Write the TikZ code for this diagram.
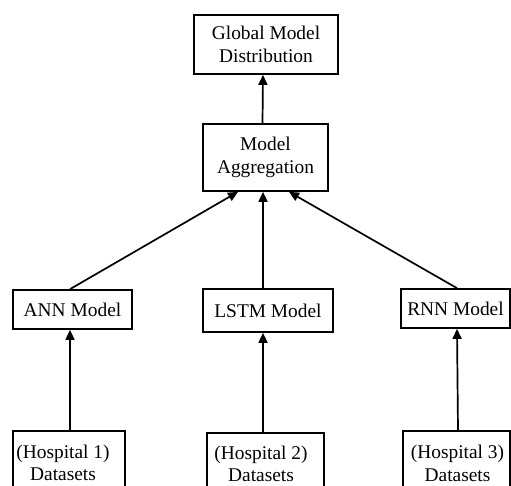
\documentclass[tikz,border=0pt]{standalone}
\usepackage{fontspec}
\setmainfont{Liberation Serif}
\usetikzlibrary{arrows.meta}
\begin{document}
\begin{tikzpicture}[x=1pt,y=-1pt,
  box/.style={draw,line width=1.7pt,inner sep=0pt,align=center,font=\fontsize{19.4}{23.5}\selectfont},
  txt/.style={inner sep=0pt,align=center,font=\fontsize{19.4}{22.5}\selectfont},
  arr/.style={line width=1.7pt,-{Triangle[length=10pt,width=9pt]}}]
\clip (0,0) rectangle (511,486);
\fill[white] (0,0) rectangle (511,486);
\node[box,minimum width=144pt,minimum height=59pt] (glob) at (266,44.5) {Global Model\\Distribution};
\node[box,minimum width=125pt,minimum height=67pt] (agg) at (265.5,157.5) {Model\\Aggregation};
\node[box,minimum width=119pt,minimum height=39pt] (ann) at (72.5,309.5) {ANN Model};
\node[box,minimum width=130pt,minimum height=43pt] (lstm) at (268,310.5) {LSTM Model};
\node[box,minimum width=109pt,minimum height=39pt] (rnn) at (455.5,308.5) {RNN Model};
\node[box,minimum width=112pt,minimum height=68pt] (h1) at (69,465) {};
\node[box,minimum width=117pt,minimum height=68pt] (h2) at (265.5,467) {};
\node[box,minimum width=107pt,minimum height=68pt] (h3) at (456.5,465) {};
\node[txt] (h1t) at (63,463) {(Hospital 1)\\Datasets};
\node[txt] (h2t) at (261,464) {(Hospital 2)\\Datasets};
\node[txt] (h3t) at (457.5,463.5) {(Hospital 3)\\Datasets};
\draw[arr] ([xshift=-3pt]agg.north) -- ([xshift=-3pt]glob.south);
\draw[arr] ([xshift=-2.5pt]ann.north) -- ([xshift=-27.5pt]agg.south);
\draw[arr] ([xshift=-5pt]lstm.north) -- ([xshift=-2.5pt]agg.south);
\draw[arr] ([xshift=1.5pt]rnn.north) -- ([xshift=23.5pt]agg.south);
\draw[arr] ([xshift=1pt]h1.north) -- ([xshift=-2.5pt]ann.south);
\draw[arr] ([xshift=-2.5pt]h2.north) -- ([xshift=-5pt]lstm.south);
\draw[arr] ([xshift=1.5pt]h3.north) -- ([xshift=1.5pt]rnn.south);
\end{tikzpicture}
\end{document}
